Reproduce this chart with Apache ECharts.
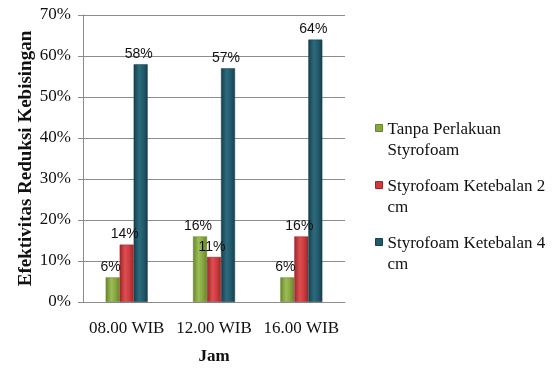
<!DOCTYPE html>
<html>
<head>
<meta charset="utf-8">
<script src="https://cdn.jsdelivr.net/npm/echarts@6/dist/echarts.min.js"></script>
<style>
  html, body { margin: 0; padding: 0; background: #fff; }
  #chart { width: 555px; height: 370px; }
</style>
</head>
<body>
<div id="chart"></div>
<script>
// Time-of-day categories and noise-reduction effectiveness (%)
const categories = ['08.00 WIB', '12.00 WIB', '16.00 WIB'];
const seriesNames = ['Tanpa Perlakuan Styrofoam', 'Styrofoam Ketebalan 2 cm', 'Styrofoam Ketebalan 4 cm'];
const tanpaPerlakuan = [6, 16, 6];
const ketebalan2cm = [14, 11, 16];
const ketebalan4cm = [58, 57, 64];
const yTicks = [0, 10, 20, 30, 40, 50, 60, 70];

const palette = [
  { base: '#86a640', light: '#9dbd55', dark: '#66842c' },
  { base: '#cc3a3d', light: '#de4f51', dark: '#9c2729' },
  { base: '#215a6b', light: '#2c6b7d', dark: '#153f4c' }
];

// Shaded fill: darker side edges, lighter middle
function barFill(c) {
  return new echarts.graphic.LinearGradient(0, 0, 1, 0, [
    { offset: 0, color: c.dark },
    { offset: 0.4, color: c.light },
    { offset: 0.7, color: c.base },
    { offset: 1, color: c.dark }
  ]);
}

const serif = '"Liberation Serif", "DejaVu Serif", serif';
const sans = '"Liberation Sans", Arial, sans-serif';

function makeSeries(name, values, c) {
  return {
    name: name,
    type: 'bar',
    data: values,
    barWidth: 14,
    barGap: '0%',
    itemStyle: { color: barFill(c), borderColor: c.dark, borderWidth: 0.5 },
    label: {
      show: true,
      position: 'top',
      distance: 3,
      offset: [-2, 0],
      formatter: p => p.value + '%',
      fontFamily: sans,
      fontSize: 14,
      color: '#111'
    }
  };
}

// Legend marker: small square sitting on the first line of a two-line entry
const legendIcon = 'path://M0,0 M0,5h7v7h-7z M7,42';

const chart = echarts.init(document.getElementById('chart'), null, { renderer: 'canvas' });
chart.setOption({
  animation: false,
  backgroundColor: '#fff',
  color: palette.map(c => c.base),
  grid: { left: 83, right: 210, top: 15, bottom: 66, containLabel: false },
  legend: {
    orient: 'vertical',
    left: 370,
    top: 114,
    itemWidth: 7,
    itemHeight: 42,
    itemGap: 14,
    itemStyle: { borderWidth: 1 },
    icon: legendIcon,
    data: seriesNames.map((n, i) => ({ name: n, itemStyle: { color: palette[i].base, borderColor: palette[i].dark, borderWidth: 1 } })),
    textStyle: {
      fontFamily: serif,
      fontSize: 17,
      color: '#111',
      width: 165,
      overflow: 'break',
      lineHeight: 21
    }
  },
  xAxis: {
    type: 'category',
    data: categories,
    name: 'Jam',
    nameLocation: 'middle',
    nameGap: 46,
    nameTextStyle: { fontFamily: serif, fontSize: 17, fontWeight: 'bold', color: '#111' },
    axisLine: { lineStyle: { color: '#8c8c8c', width: 1 } },
    axisTick: { show: false },
    axisLabel: { fontFamily: serif, fontSize: 17, color: '#111', margin: 18, interval: 0 }
  },
  yAxis: {
    type: 'value',
    min: yTicks[0],
    max: yTicks[yTicks.length - 1],
    interval: 10,
    name: 'Efektivitas Reduksi Kebisingan',
    nameLocation: 'middle',
    nameGap: 46,
    nameTextStyle: { fontFamily: serif, fontSize: 19, fontWeight: 'bold', color: '#111' },
    axisLine: { show: true, lineStyle: { color: '#8c8c8c', width: 1 } },
    axisTick: { show: true, length: 5, lineStyle: { color: '#8c8c8c' } },
    splitLine: { lineStyle: { color: '#8c8c8c', width: 1 } },
    axisLabel: { fontFamily: serif, fontSize: 17, color: '#111', margin: 12, formatter: v => v + '%' }
  },
  series: [
    makeSeries(seriesNames[0], tanpaPerlakuan, palette[0]),
    makeSeries(seriesNames[1], ketebalan2cm, palette[1]),
    makeSeries(seriesNames[2], ketebalan4cm, palette[2])
  ]
});
</script>
</body>
</html>
